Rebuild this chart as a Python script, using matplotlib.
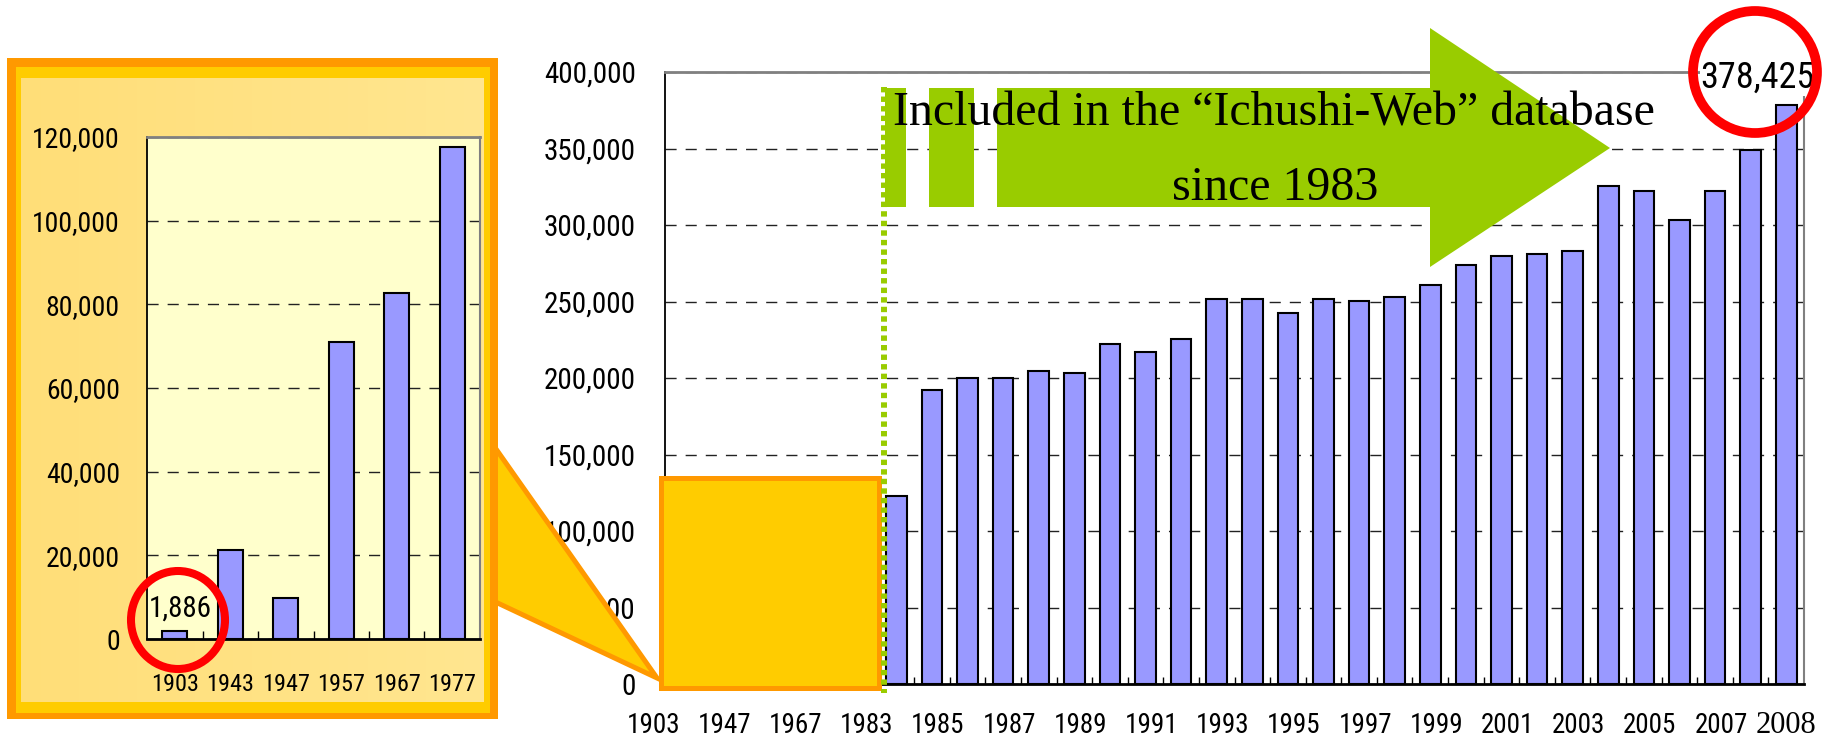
"""Ichushi-Web : nombre d'articles par annee, avec encart des annees anciennes."""

import matplotlib
matplotlib.use("Agg")
import matplotlib.pyplot as plt
import numpy as np
from matplotlib import font_manager as fm
from matplotlib import patches, transforms
from matplotlib.ticker import FuncFormatter

W, H = 1823, 740

# Encart : annees anciennes
inset_years = ["1903", "1943", "1947", "1957", "1967", "1977"]
inset_counts = [1886, 21300, 9700, 71100, 82600, 117700]

# Graphique principal : 1983-2008
recent_years = list(range(1983, 2009))
recent_counts = [
    122600, 192000, 199700, 199700, 204400, 203000, 221900, 217100, 225200,
    251400, 251400, 242200, 251400, 250100, 253200, 261000, 273600, 279700,
    281000, 282800, 325200, 322100, 303300, 322100, 348700, 378425,
]
main_counts = inset_counts + recent_counts
main_tick_labels = ["1903", "1947", "1967", "1983"] + [str(y) for y in range(1985, 2008, 2)]


def pick_narrow():
    """Cherche une police etroite type Arial Narrow parmi celles installees."""
    entries = fm.fontManager.ttflist
    names = {f.name for f in entries}
    for name in ["Liberation Sans Narrow", "Arial Narrow", "Roboto Condensed",
                 "Noto Sans Condensed", "Open Sans Condensed", "DejaVu Sans Condensed"]:
        if name in names:
            return name, "normal"
    for fam in ["Noto Sans", "Roboto", "Open Sans", "DejaVu Sans"]:
        for f in entries:
            if f.name == fam and str(f.stretch) in ("condensed", "semi-condensed"):
                return fam, str(f.stretch)
    return "Liberation Sans", "normal"


narrow_name, narrow_stretch = pick_narrow()
NARROW = [narrow_name, "Liberation Sans", "DejaVu Sans"]
SERIF = ["Liberation Serif", "DejaVu Serif"]
plt.rcParams["font.family"] = NARROW
plt.rcParams["font.stretch"] = narrow_stretch
# sans police etroite, on reduit un peu pour garder les largeurs
fs = 1.0 if narrow_name != "Liberation Sans" else 0.86

BAR = "#9999FF"
ORANGE = "#FF9900"
YELLOW = "#FFCC00"
GREEN = "#99CC00"
GRID = dict(linestyle=(0, (8, 6.5)), color="#222222", linewidth=1.0)
thousands = FuncFormatter(lambda v, p: f"{v:,.0f}")


def frac(x0, y0, x1, y1):
    """Rectangle en pixels (haut-gauche, bas-droite) -> fractions de figure."""
    return [x0 / W, 1 - y1 / H, (x1 - x0) / W, (y1 - y0) / H]


def style_spines(ax):
    ax.spines["left"].set(color="black", linewidth=1.3)
    ax.spines["bottom"].set(color="black", linewidth=2.0)
    ax.spines["top"].set(color="#808080", linewidth=2.0)
    ax.spines["right"].set(color="#808080", linewidth=1.5)


fig = plt.figure(figsize=(W / 100, H / 100), dpi=100)

# --- Graphique principal
ax = fig.add_axes(frac(665, 72, 1804, 684), zorder=1)
x = np.arange(len(main_counts))
ax.bar(x, main_counts, width=0.58, color=BAR, edgecolor="black", linewidth=1.5, zorder=3)
ax.set_xlim(-0.5, len(x) - 0.5)
ax.set_ylim(0, 400000)
ax.set_yticks(np.arange(0, 400001, 50000))
ax.yaxis.set_major_formatter(thousands)
ax.tick_params(axis="y", length=0, pad=21, labelsize=21 * fs)
ax.yaxis.grid(True, **GRID)
ax.set_axisbelow(True)
ax.set_xticks(x[:-1] + 0.5)
ax.tick_params(axis="x", direction="in", length=5, width=1, labelbottom=False)
style_spines(ax)

lab_tr = transforms.blended_transform_factory(ax.transData, fig.transFigure)
for k, lab in enumerate(main_tick_labels):
    ax.text(2 * k - 1 + 0.17, 1 - 733 / H, lab, transform=lab_tr, ha="center",
            va="baseline", fontsize=19.5 * fs, clip_on=False)
ax.text(x[-1], 1 - 733 / H, str(recent_years[-1]), transform=lab_tr, ha="center",
        va="baseline", fontsize=22, family=SERIF, clip_on=False)

# --- Calque des formes (legende, fleche, cadres)
ov = fig.add_axes([0, 0, 1, 1], zorder=2)
ov.axis("off")

ov.add_patch(patches.Polygon([(470, 412), (657, 678), (470, 590)], closed=True,
                             facecolor=YELLOW, edgecolor=ORANGE, linewidth=3.6,
                             joinstyle="miter"))
ov.add_patch(patches.Rectangle((7, 58), 491, 661, facecolor=ORANGE, edgecolor="none"))
ov.add_patch(patches.Rectangle((15.5, 66.5), 474, 646, facecolor=YELLOW, edgecolor="none"))
grad = np.linspace(0, 1, 256).reshape(1, -1)
cmap = matplotlib.colors.LinearSegmentedColormap.from_list("panel", ["#FFDE78", "#FFE690"])
ov.imshow(grad, extent=(20.7, 483, 702, 78), aspect="auto", cmap=cmap, zorder=2)

ov.add_patch(patches.Rectangle((660.5, 477.5), 218, 210, facecolor=YELLOW,
                               edgecolor=ORANGE, linewidth=3.6, zorder=3))
ov.plot([883.5, 883.5], [87, 693], color=GREEN, linewidth=4.3, linestyle=(0, (0.9, 0.7)),
        zorder=4)

arrow = [(997, 88), (1430, 88), (1430, 28), (1610, 148), (1430, 267), (1430, 207), (997, 207)]
ov.add_patch(patches.Polygon(arrow, closed=True, facecolor=GREEN, edgecolor="none", zorder=3))
for x0, x1 in [(885, 906), (929, 974)]:
    ov.add_patch(patches.Rectangle((x0, 88), x1 - x0, 119, facecolor=GREEN,
                                   edgecolor="none", zorder=3))
ov.text(1274, 125, "Included in the \u201cIchushi-Web\u201d database", ha="center",
        va="baseline", fontsize=34.5, family=SERIF, zorder=5)
ov.text(1275, 200, "since 1983", ha="center", va="baseline", fontsize=34.5, family=SERIF,
        zorder=5)
ov.set_xlim(0, W)
ov.set_ylim(H, 0)

# --- Encart
axi = fig.add_axes(frac(147, 137, 480, 639), zorder=3)
axi.set_facecolor("#FFFFCC")
xi = np.arange(len(inset_counts))
axi.bar(xi, inset_counts, width=0.45, color=BAR, edgecolor="black", linewidth=1.5, zorder=3)
axi.set_xlim(-0.5, len(xi) - 0.5)
axi.set_ylim(0, 120000)
axi.set_yticks(np.arange(0, 120001, 20000))
axi.yaxis.set_major_formatter(thousands)
axi.tick_params(axis="y", length=0, pad=19.5, labelsize=20 * fs)
axi.yaxis.grid(True, **GRID)
axi.set_axisbelow(True)
axi.set_xticks(xi[:-1] + 0.5)
axi.tick_params(axis="x", direction="in", length=6, width=1, labelbottom=False)
style_spines(axi)
in_tr = transforms.blended_transform_factory(axi.transData, fig.transFigure)
for i, lab in enumerate(inset_years):
    axi.text(i, 1 - 691 / H, lab, transform=in_tr, ha="center", va="baseline",
             fontsize=17.5 * fs, clip_on=False)

# --- Annotations rouges
top = fig.add_axes([0, 0, 1, 1], zorder=4)
top.axis("off")
top.text(180, 617, f"{inset_counts[0]:,}", ha="center", va="baseline", fontsize=21 * fs)
top.text(1757, 88, f"{recent_counts[-1]:,}", ha="center", va="baseline", fontsize=26 * fs,
         bbox=dict(facecolor="white", edgecolor="none", pad=0))
top.add_patch(patches.Ellipse((178, 620), 94, 98, fill=False, edgecolor="#FF0000",
                              linewidth=5.8, zorder=5))
top.add_patch(patches.Ellipse((1755, 72), 124, 122, fill=False, edgecolor="#FF0000",
                              linewidth=7, zorder=5))
top.set_xlim(0, W)
top.set_ylim(H, 0)

fig.savefig("out.png", dpi=100)
